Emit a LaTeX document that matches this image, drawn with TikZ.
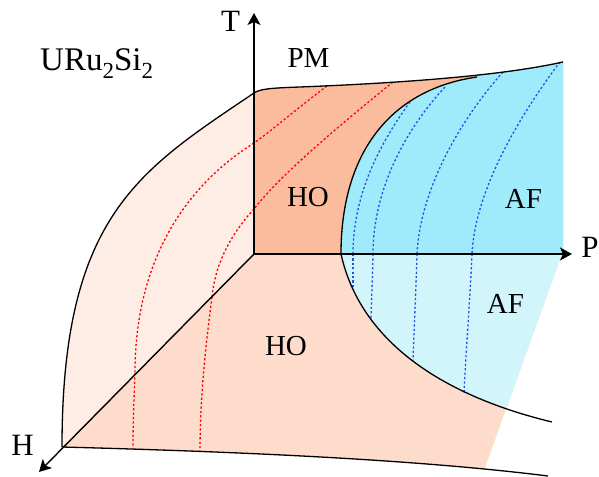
\documentclass[tikz,border=0pt]{standalone}
\usepackage{fontspec}
\setmainfont{Liberation Serif}
\usetikzlibrary{arrows.meta}
\definecolor{htc}{HTML}{FDEDE4}
\definecolor{hpc}{HTML}{FDDCCB}
\definecolor{tpc}{HTML}{FBBC9E}
\definecolor{afc}{HTML}{9FEBFB}
\definecolor{aflc}{HTML}{D2F5FC}
\definecolor{afblue}{HTML}{2050F0}
\begin{document}
\begin{tikzpicture}[x=1pt,y=-1pt,
  bline/.style={line width=1.3pt, black},
  axis/.style={line width=1.4pt, -{Stealth[length=12pt,width=13pt,inset=3pt]}},
  reddot/.style={red, line width=1.3pt, dash pattern=on 2.2pt off 2.2pt},
  bluedot/.style={afblue, line width=1.3pt, dash pattern=on 2.2pt off 2.2pt},
  lab/.style={font=\fontsize{29}{31}\selectfont, inner sep=0pt, anchor=base},
  axlab/.style={font=\fontsize{31}{33}\selectfont, inner sep=0pt, anchor=base}]
\useasboundingbox (0,0) rectangle (599,476);

\coordinate (O) at (254,254);
\coordinate (Ttip) at (254,13);
\coordinate (Ptip) at (572,254);
\coordinate (Htip) at (39,472);

% H-T plane
\fill[htc] (O) -- (254,93) .. controls (140,170) and (62,215) .. (62,447) -- cycle;

% H-P plane
\begin{scope}
  \clip (0,254) -- (562,254) -- (477,490) -- (0,490) -- cycle;
  \fill[hpc] (O) -- (62,447) .. controls (250,452) and (420,460) .. (548,476) -- (600,490) -- (600,254) -- cycle;
  \fill[aflc] (341,254) .. controls (360,340) and (440,395) .. (552,422) -- (600,422) -- (600,254) -- cycle;
\end{scope}

% T-P plane
\fill[tpc] (O) -- (254,93) .. controls (260,89) and (270,88) .. (300,87) .. controls (400,83) and (500,76) .. (563,62) -- (563,254) -- cycle;
\begin{scope}
  \clip (O) -- (254,93) .. controls (260,89) and (270,88) .. (300,87) .. controls (400,83) and (500,76) .. (563,62) -- (563,254) -- cycle;
  \fill[afc] (341,254) .. controls (341,150) and (393,89) .. (477,77) -- (477,40) -- (600,40) -- (600,254) -- cycle;
\end{scope}

% red dotted lines
\draw[reddot] (327,86) .. controls (295,110) and (270,132) .. (254,143);
\draw[reddot] (254,143) .. controls (195,180) and (135,250) .. (135,373);
\draw[reddot] (135,373) .. controls (134,400) and (133,420) .. (133,448);
\draw[reddot] (393,82) .. controls (340,125) and (280,175) .. (254,209);
\draw[reddot] (254,209) .. controls (230,235) and (215,265) .. (212,297);
\draw[reddot] (212,297) .. controls (205,350) and (200,400) .. (200,451);

% blue dotted lines
\draw[bluedot] (410,102) .. controls (375,150) and (353,200) .. (353,254);
\draw[bluedot] (445,87) .. controls (405,130) and (373,190) .. (373,254);
\draw[bluedot] (503,72) .. controls (460,120) and (420,190) .. (417,254);
\draw[bluedot] (560,62) .. controls (520,115) and (475,190) .. (472,254);
\draw[bluedot] (353,254) -- (353,288);
\draw[bluedot] (373,254) .. controls (372.5,280) and (371.5,300) .. (371,318);
\draw[bluedot] (417,254) .. controls (416,290) and (414,330) .. (413,361);
\draw[bluedot] (472,254) .. controls (470,300) and (466,350) .. (464,393);

% black boundaries
\draw[bline] (254,93) .. controls (140,170) and (62,215) .. (62,447);
\draw[bline] (254,93) .. controls (260,89) and (270,88) .. (300,87) .. controls (400,83) and (500,76) .. (563,62);
\draw[bline] (341,254) .. controls (341,150) and (393,89) .. (477,77);
\draw[bline] (341,254) .. controls (360,340) and (440,395) .. (552,422);
\draw[bline] (62,447) .. controls (250,452) and (420,460) .. (548,476);

% axes
\draw[axis] (O) -- (Ttip);
\draw[axis] (O) -- (Ptip);
\draw[axis] (O) -- (Htip);

% labels
\node[axlab] (lT) at (230.5,32) {T};
\node[axlab] (lP) at (590,257) {P};
\node[axlab] (lH) at (22.5,455) {H};
\node[inner sep=0pt, anchor=base west, font=\fontsize{33}{35}\selectfont] (mat) at (40,71) {URu\raisebox{-0.22em}{\fontsize{23}{23}\selectfont 2}Si\raisebox{-0.22em}{\fontsize{23}{23}\selectfont 2}};
\node[lab] (lpm) at (308.5,68) {PM};
\node[lab] (lho1) at (308,206) {HO};
\node[lab] (laf1) at (523.5,208) {AF};
\node[lab] (laf2) at (505.5,313) {AF};
\node[lab] (lho2) at (286,355) {HO};
\end{tikzpicture}
\end{document}
